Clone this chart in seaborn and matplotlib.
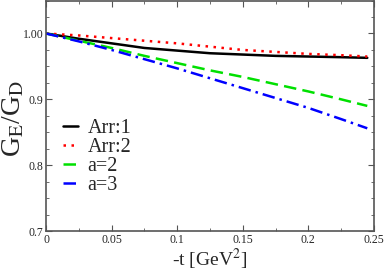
import numpy as np
import pandas as pd
import matplotlib
matplotlib.use('Agg')
import matplotlib.pyplot as plt
import seaborn as sns
from matplotlib.ticker import MultipleLocator

# values
t = [0.0, 0.025, 0.05, 0.075, 0.1, 0.125, 0.15, 0.175, 0.2, 0.225, 0.245]
arr1 = [1.0, 0.992, 0.985, 0.978, 0.974, 0.970, 0.968, 0.966, 0.965, 0.964, 0.963]
arr2 = [1.0, 0.997, 0.993, 0.989, 0.985, 0.980, 0.975, 0.972, 0.969, 0.967, 0.965]
a2 = [1.0, 0.989, 0.978, 0.966, 0.955, 0.944, 0.934, 0.923, 0.912, 0.900, 0.890]
a3 = [1.0, 0.988, 0.975, 0.961, 0.947, 0.932, 0.917, 0.902, 0.887, 0.870, 0.856]

labels = ['Arr:1', 'Arr:2', 'a=2', 'a=3']
colors = ['black', '#ff0000', '#00e000', '#0000ff']
styles = ['-', (0, (1, 2.2)), (0, (5, 2.5)), (0, (5, 2, 1, 2))]

xticks = [0, 0.05, 0.1, 0.15, 0.2, 0.25]
xticklabels = ['0', '0.05', '0.1', '0.15', '0.2', '0.25']
yticks = [0.7, 0.8, 0.9, 1.0]
yticklabels = ['0.7', '0.8', '0.9', '1.00']

sns.set_style('ticks')
plt.rcParams['font.family'] = ['Liberation Serif', 'DejaVu Serif']
plt.rcParams['mathtext.fontset'] = 'stix'

fig = plt.figure(figsize=(3.87, 2.77), dpi=100)
ax = fig.add_axes([0.119, 0.166, 0.847, 0.832])

for lab, vals, c, ls in zip(labels, [arr1, arr2, a2, a3], colors, styles):
    df = pd.DataFrame({'t': t, 'r': vals})
    sns.lineplot(data=df, x='t', y='r', ax=ax, color=c, linestyle=ls,
                 linewidth=1.8, label=lab)

ax.set_xlim(0, 0.25)
ax.set_ylim(0.7, 1.05)
ax.set_xticks(xticks)
ax.set_xticklabels(xticklabels)
ax.set_yticks(yticks)
ax.set_yticklabels(yticklabels)
ax.xaxis.set_minor_locator(MultipleLocator(0.025))
ax.yaxis.set_minor_locator(MultipleLocator(0.025))
ax.tick_params(which='both', direction='in', top=True, right=True,
               color='#555555', labelsize=8.5, pad=2)
ax.tick_params(which='major', length=4)
ax.tick_params(which='minor', length=2.5)
for s in ax.spines.values():
    s.set_color('#555555')
    s.set_linewidth(1.2)

ax.set_xlabel(r'-t [GeV$^2$]', fontsize=14, labelpad=1)
ax.set_ylabel(r'G$_\mathrm{E}$/G$_\mathrm{D}$', fontsize=20)
ax.yaxis.set_label_coords(-0.06, 0.49)

ax.legend(loc='lower left', bbox_to_anchor=(0.028, 0.12), frameon=False,
          fontsize=14.5, handlelength=0.75, handletextpad=0.45,
          labelspacing=0.0, borderaxespad=0)

fig.savefig('out.png', dpi=100)
